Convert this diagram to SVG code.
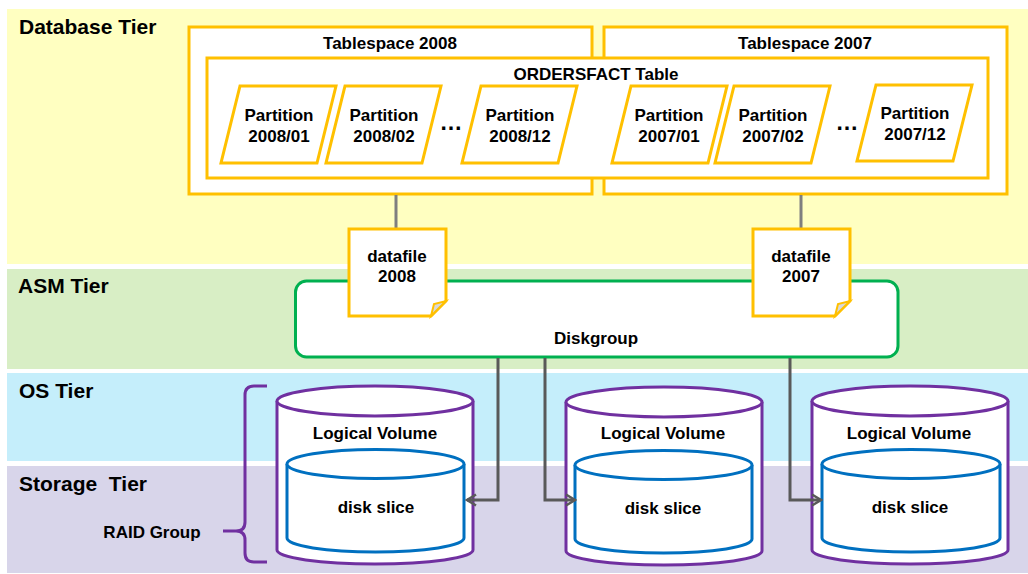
<svg xmlns="http://www.w3.org/2000/svg" width="1028" height="574" viewBox="0 0 1028 574">
<style>
text{font-family:"Liberation Sans",Arial,sans-serif;font-weight:bold;fill:#000;}
.tier{font-size:21px;}
.lbl{font-size:17px;text-anchor:middle;}
.dots{font-size:23px;text-anchor:middle;}
.ybox{fill:#fff;stroke:#FFC000;stroke-width:3;}
.part{fill:#fff;stroke:#FFC000;stroke-width:3;stroke-linejoin:miter;}
.outer{fill:#fff;stroke:#7030A0;stroke-width:3;}
.inner{fill:#fff;stroke:#0070C0;stroke-width:3;}
.up{stroke:#7F7F7F;stroke-width:3;fill:none;}
.low{stroke:#595959;stroke-width:3;fill:none;}
</style>
<defs>
<marker id="arr" markerUnits="userSpaceOnUse" markerWidth="14" markerHeight="14" viewBox="0 0 14 14" refX="12" refY="7" orient="auto">
<path d="M3,1.5 L12,7 L3,12.5" fill="none" stroke="#595959" stroke-width="2.6"/>
</marker>
</defs>

<g id="bands">
<rect x="7" y="9" width="1021" height="255" fill="#FFFFC1"/>
<rect x="7" y="269" width="1021" height="100" fill="#D8EEC5"/>
<rect x="7" y="373" width="1021" height="88" fill="#C5EEFB"/>
<rect x="7" y="466" width="1021" height="107" fill="#D8D5EA"/>
<text class="tier" x="19" y="34">Database Tier</text>
<text class="tier" x="18" y="293">ASM Tier</text>
<text class="tier" x="19" y="398">OS Tier</text>
<text class="tier" x="19" y="491" xml:space="preserve">Storage  Tier</text>
</g>

<g id="tablespace2008">
<rect class="ybox" x="189" y="27" width="403" height="167"/>
<text class="lbl" x="390" y="49">Tablespace 2008</text>
</g>
<g id="tablespace2007">
<rect class="ybox" x="604" y="27" width="403" height="167"/>
<text class="lbl" x="805" y="49">Tablespace 2007</text>
</g>
<g id="ordersfact">
<rect class="ybox" x="207" y="58" width="781" height="120"/>
<text class="lbl" x="596" y="80">ORDERSFACT Table</text>
</g>

<g id="p200801">
<polygon class="part" points="240,86 336,86 317,163 221,163"/>
<text class="lbl" x="279" y="120.5">Partition</text>
<text class="lbl" x="279" y="141.5">2008/01</text>
</g>
<g id="p200802">
<polygon class="part" points="345,86 441,86 422,163 326,163"/>
<text class="lbl" x="384" y="120.5">Partition</text>
<text class="lbl" x="384" y="141.5">2008/02</text>
</g>
<text class="dots" x="451" y="130">…</text>
<g id="p200812">
<polygon class="part" points="481,86 577,86 558,163 462,163"/>
<text class="lbl" x="520" y="120.5">Partition</text>
<text class="lbl" x="520" y="141.5">2008/12</text>
</g>
<g id="p200701">
<polygon class="part" points="631,86 727,86 708,163 612,163"/>
<text class="lbl" x="669" y="120.5">Partition</text>
<text class="lbl" x="669" y="141.5">2007/01</text>
</g>
<g id="p200702">
<polygon class="part" points="734,86 830,86 811,163 715,163"/>
<text class="lbl" x="773" y="120.5">Partition</text>
<text class="lbl" x="773" y="141.5">2007/02</text>
</g>
<text class="dots" x="847" y="130">…</text>
<g id="p200712">
<polygon class="part" points="876,85 972,85 953,161 857,161"/>
<text class="lbl" x="915" y="118.5">Partition</text>
<text class="lbl" x="915" y="139.5">2007/12</text>
</g>

<g id="connectors">
<line class="up" x1="396" y1="195" x2="396" y2="229"/>
<line class="up" x1="801" y1="195" x2="801" y2="229"/>
</g>

<g id="diskgroup">
<rect x="295.5" y="281" width="602.5" height="76" rx="11" ry="11" fill="#fff" stroke="#00B050" stroke-width="3"/>
<text class="lbl" x="596" y="344">Diskgroup</text>
</g>

<g id="datafile2008">
<path class="ybox" d="M349,229 H446 V301 L431,316 H349 Z"/>
<path d="M431,316 L434,304 L446,301 Z" fill="#D9D9D9" stroke="#FFC000" stroke-width="2"/>
<text class="lbl" x="397" y="262">datafile</text>
<text class="lbl" x="397" y="282">2008</text>
</g>
<g id="datafile2007">
<path class="ybox" d="M753,229 H850 V301 L835,316 H753 Z"/>
<path d="M835,316 L838,304 L850,301 Z" fill="#D9D9D9" stroke="#FFC000" stroke-width="2"/>
<text class="lbl" x="801" y="262">datafile</text>
<text class="lbl" x="801" y="282">2007</text>
</g>

<g id="lv1">
<path class="outer" d="M277,401 A98,15 0 0 1 473,401 V550 A98,14 0 0 1 277,550 Z"/>
<path class="outer" d="M277,401 A98,15 0 0 0 473,401" fill="none"/>
<text class="lbl" x="375" y="439">Logical Volume</text>
</g>
<g id="ds1">
<path class="inner" d="M287,464 A88.5,14.5 0 0 1 464,464 V538 A88.5,14 0 0 1 287,538 Z"/>
<path class="inner" d="M287,464 A88.5,14.5 0 0 0 464,464" fill="none"/>
<text class="lbl" x="376" y="513">disk slice</text>
</g>
<g id="lv2">
<path class="outer" d="M566,402 A98,15 0 0 1 762,402 V551 A98,14 0 0 1 566,551 Z"/>
<path class="outer" d="M566,402 A98,15 0 0 0 762,402" fill="none"/>
<text class="lbl" x="663" y="439">Logical Volume</text>
</g>
<g id="ds2">
<path class="inner" d="M575,465 A88.5,14.5 0 0 1 752,465 V539 A88.5,14 0 0 1 575,539 Z"/>
<path class="inner" d="M575,465 A88.5,14.5 0 0 0 752,465" fill="none"/>
<text class="lbl" x="663" y="514">disk slice</text>
</g>
<g id="lv3">
<path class="outer" d="M812,401 A98,15 0 0 1 1008,401 V550 A98,14 0 0 1 812,550 Z"/>
<path class="outer" d="M812,401 A98,15 0 0 0 1008,401" fill="none"/>
<text class="lbl" x="909" y="439">Logical Volume</text>
</g>
<g id="ds3">
<path class="inner" d="M822,464 A89,14.5 0 0 1 1000,464 V538 A89,14 0 0 1 822,538 Z"/>
<path class="inner" d="M822,464 A89,14.5 0 0 0 1000,464" fill="none"/>
<text class="lbl" x="910" y="513">disk slice</text>
</g>

<g id="raidgroup">
<path d="M267,386 H254 Q245,386 245,395 V522 Q245,531 236,531 H223 M236,531 Q245,531 245,540 V553 Q245,562 254,562 H267" fill="none" stroke="#7030A0" stroke-width="3"/>
<text class="lbl" x="152" y="538">RAID Group</text>
</g>

<g id="connectors-lower">
<path class="low" d="M498,358 V500 H467" marker-end="url(#arr)"/>
<path class="low" d="M545,358 V500 H575" marker-end="url(#arr)"/>
<path class="low" d="M790,358 V500 H821" marker-end="url(#arr)"/>
</g>
</svg>
